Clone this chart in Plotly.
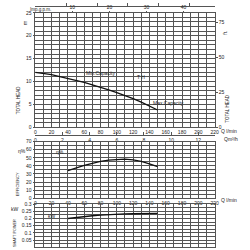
import plotly.graph_objects as go

# data
q_head = [0, 10, 20, 30, 40, 50, 60, 70, 80, 90, 100, 110, 120, 130, 140, 150]
head_m = [12.0, 11.8, 11.5, 11.1, 10.7, 10.3, 9.8, 9.3, 8.8, 8.2, 7.6, 7.0, 6.3, 5.5, 4.7, 3.8]
q_eff = [40, 50, 60, 70, 80, 90, 100, 110, 120, 130, 140, 150]
eff = [34, 37.5, 40.5, 43, 45.5, 47, 48, 48.3, 47.5, 45.5, 42.5, 39]
q_pow = [40, 50, 60, 70, 80, 90, 100, 110, 120, 130, 140, 150]
power_kw = [0.2, 0.208, 0.214, 0.219, 0.223, 0.227, 0.23, 0.232, 0.233, 0.234, 0.235, 0.235]

Q_MAX = 220
FT_PER_M = 3.2808
USGPM = 3.7854
IMPGPM = 4.5461
M3H = 0.06

GRID = "#555555"
F = dict(family="Liberation Sans, Arial", size=5, color="#222222")

fig = go.Figure()
fig.add_trace(go.Scatter(x=q_head, y=head_m, mode="lines", line=dict(color="#111", width=1.3),
                         xaxis="x", yaxis="y", showlegend=False, hoverinfo="skip"))
fig.add_trace(go.Scatter(x=q_eff, y=eff, mode="lines", line=dict(color="#111", width=1.3),
                         xaxis="x5", yaxis="y3", showlegend=False, hoverinfo="skip"))
fig.add_trace(go.Scatter(x=q_pow, y=power_kw, mode="lines", line=dict(color="#111", width=1.3),
                         xaxis="x6", yaxis="y4", showlegend=False, hoverinfo="skip"))

# invisible copies of the head curve in the alternate units so the extra axes are drawn
CLEAR = dict(color="rgba(0,0,0,0)", width=0)
fig.add_trace(go.Scatter(x=q_head, y=[h * FT_PER_M for h in head_m], mode="lines", line=CLEAR,
                         xaxis="x", yaxis="y2", showlegend=False, hoverinfo="skip"))
fig.add_trace(go.Scatter(x=[q / USGPM for q in q_head], y=head_m, mode="lines", line=CLEAR,
                         xaxis="x2", yaxis="y", showlegend=False, hoverinfo="skip"))
fig.add_trace(go.Scatter(x=[q / IMPGPM for q in q_head], y=head_m, mode="lines", line=CLEAR,
                         xaxis="x3", yaxis="y", showlegend=False, hoverinfo="skip"))
fig.add_trace(go.Scatter(x=[q * M3H for q in q_head], y=head_m, mode="lines", line=CLEAR,
                         xaxis="x4", yaxis="y", showlegend=False, hoverinfo="skip"))

XD = [0.14, 0.872]
base_x = dict(domain=XD, range=[0, Q_MAX], dtick=20, tick0=0, showgrid=True, gridcolor=GRID, gridwidth=0.6,
              minor=dict(dtick=10, showgrid=True, gridcolor=GRID, gridwidth=0.6),
              showline=True, linecolor=GRID, linewidth=0.6, mirror=True, zeroline=False,
              tickfont=F, ticks="", ticklen=0)

def ydict(**kw):
    d = dict(showgrid=True, gridcolor=GRID, gridwidth=0.6, showline=True, linecolor=GRID, linewidth=0.6,
             mirror=True, zeroline=False, tickfont=F, ticks="outside", ticklen=2, tickcolor=GRID)
    d.update(kw)
    return d

fig.update_layout(
    width=250, height=250, margin=dict(l=0, r=0, t=0, b=0),
    paper_bgcolor="white", plot_bgcolor="white",
    xaxis=dict(base_x, anchor="y"),
    yaxis=ydict(domain=[0.49, 0.96], range=[0, 25], dtick=5,
                minor=dict(dtick=1, showgrid=True, gridcolor=GRID, gridwidth=0.6)),
    yaxis2=dict(overlaying="y", side="right", anchor="x", range=[0, 25 * FT_PER_M],
                tickvals=[0, 25, 50, 75], showgrid=False, zeroline=False, tickfont=F,
                ticks="outside", ticklen=2, tickcolor=GRID),
    xaxis2=dict(overlaying="x", anchor="free", position=0.988, side="top",
                range=[0, Q_MAX / USGPM], tickvals=[10, 20, 30, 40, 50], showticklabels=False,
                showline=True, linecolor=GRID, linewidth=0.6, ticks="outside", ticklen=3,
                tickcolor=GRID, showgrid=False, zeroline=False),
    xaxis3=dict(overlaying="x", anchor="free", position=0.96, side="top",
                range=[0, Q_MAX / IMPGPM], tickvals=[10, 20, 30, 40], tickfont=F,
                ticks="outside", ticklen=2, tickcolor=GRID, showgrid=False, zeroline=False,
                showline=False),
    xaxis4=dict(overlaying="x", anchor="free", position=0.46, side="bottom",
                range=[0, Q_MAX * M3H], dtick=2, tick0=0, tickfont=F, showline=True,
                linecolor=GRID, linewidth=0.6, ticks="inside", ticklen=3, tickcolor=GRID,
                showgrid=False, zeroline=False),
    xaxis5=dict(base_x, anchor="y3"),
    yaxis3=ydict(domain=[0.2, 0.432], range=[0, 70], dtick=10,
                 minor=dict(dtick=5, showgrid=True, gridcolor=GRID, gridwidth=0.6)),
    xaxis6=dict(base_x, anchor="y4", showticklabels=False),
    yaxis4=ydict(domain=[0, 0.176], range=[0.003, 0.3], dtick=0.05, tick0=0,
                 minor=dict(dtick=0.025, showgrid=True, gridcolor=GRID, gridwidth=0.6)),
)

def ann(x, y, text, angle=0, xanchor="center", xref="paper", yref="paper", size=5):
    fig.add_annotation(x=x, y=y, xref=xref, yref=yref, text=text, showarrow=False,
                       textangle=angle, xanchor=xanchor, yanchor="middle",
                       font=dict(F, size=size))

def py(px):
    return 1 - px / 250

def pxx(px):
    return px / 250

ann(pxx(28), py(7), "Imp.g.p.m.", xanchor="left", size=4.5)
ann(pxx(25), py(21), "m", angle=-90)
ann(pxx(18), py(100), "TOTAL HEAD", angle=-90, size=4.5)
ann(pxx(229), py(30), "ft.", angle=-90)
ann(pxx(231), py(108), "TOTAL HEAD", angle=-90, size=4.5)
ann(pxx(222), py(131), "Q l/min", xanchor="left")
ann(pxx(226), py(139), "Qm³/h", xanchor="left")
ann(pxx(222), py(202), "Q l/min", xanchor="left")
ann(pxx(21), py(152), "η%")
ann(pxx(17), py(186), "EFFICIENCY", angle=-90, size=4)
ann(pxx(14), py(211), "kW")
ann(pxx(15), py(236), "SHAFT POWER", angle=-90, size=3.8)

ann(80, 11.8, "Min.Capacity", xref="x", yref="y")
ann(130, 11.0, "T H", xref="x", yref="y")
ann(163, 5.3, "Max.Capacity", xref="x", yref="y")
ann(30, 57, "η%", xref="x5", yref="y3")
ann(20, 0.22, "kW", xref="x6", yref="y4")

fig.write_html("out.html")
